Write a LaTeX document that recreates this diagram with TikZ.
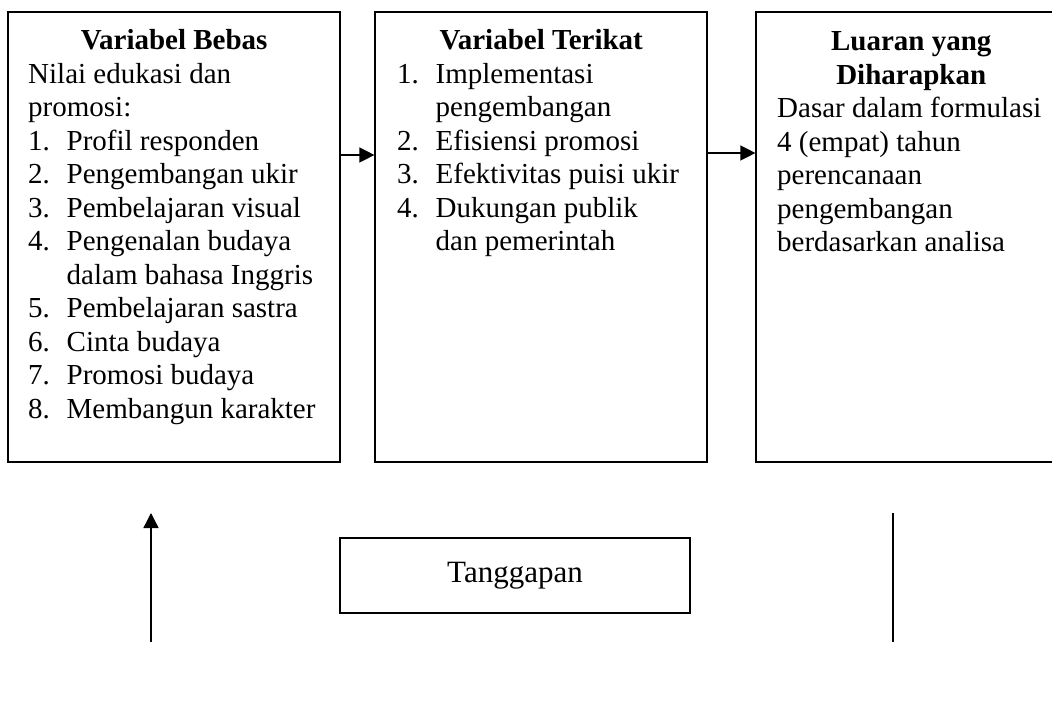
\documentclass[tikz,border=0pt]{standalone}
\usepackage{fontspec}
\setmainfont{Liberation Serif}
\usetikzlibrary{arrows.meta}
\tikzset{
  box/.style={draw, line width=1.2pt, rectangle, inner sep=0pt},
  txt/.style={anchor=base west, inner sep=0pt, font=\fontsize{29}{33.5}\selectfont},
  arr/.style={line width=1.4pt, -{Triangle[length=15pt,width=15pt]}},
  plain/.style={line width=1.4pt}
}
\newcommand{\itm}[1]{\makebox[38.5pt][l]{#1}}
\newcommand{\hng}{\hspace*{38.5pt}}
\begin{document}
\begin{tikzpicture}[x=1pt,y=-1pt]
\useasboundingbox (0,0) rectangle (1052,708);
\clip (0,0) rectangle (1052,708);
% boxes
\node[box, minimum width=332pt, minimum height=450pt] (vb) at (174,237) {};
\node[box, minimum width=332pt, minimum height=450pt] (vt) at (541,237) {};
\node[box, minimum width=310pt, minimum height=450pt] (lh) at (911,237) {};
\node[box, minimum width=350pt, minimum height=75pt, font=\fontsize{31}{36}\selectfont] (tg) at (515,575.5) {Tanggapan};
% texts
\node[txt] (t1) at (28,50) {\parbox[t]{292pt}{%
\makebox[\linewidth][c]{\bfseries Variabel Bebas}\\
Nilai edukasi dan\\
promosi:\\
\itm{1.}Profil responden\\
\itm{2.}Pengembangan ukir\\
\itm{3.}Pembelajaran visual\\
\itm{4.}Pengenalan budaya\\
\hng dalam bahasa Inggris\\
\itm{5.}Pembelajaran sastra\\
\itm{6.}Cinta budaya\\
\itm{7.}Promosi budaya\\
\itm{8.}Membangun karakter}};
\node[txt] (t2) at (397,50) {\parbox[t]{288pt}{%
\makebox[\linewidth][c]{\bfseries Variabel Terikat}\\
\itm{1.}Implementasi\\
\hng pengembangan\\
\itm{2.}Efisiensi promosi\\
\itm{3.}Efektivitas puisi ukir\\
\itm{4.}Dukungan publik\\
\hng dan pemerintah}};
\node[txt] (t3) at (777,51) {\parbox[t]{268pt}{%
\makebox[\linewidth][c]{\bfseries Luaran yang}\\
\makebox[\linewidth][c]{\bfseries Diharapkan}\\
Dasar dalam formulasi\\
4 (empat) tahun\\
perencanaan\\
pengembangan\\
berdasarkan analisa}};
% connectors
\coordinate (ya) at (0,155);
\coordinate (yb) at (0,153);
\draw[arr] (vb.east |- ya) -- (vt.west |- ya);
\draw[arr] (vt.east |- yb) -- (lh.west |- yb);
\coordinate (u0) at (151,642);
\coordinate (u1) at (151,513);
\draw[arr] (u0) -- (u1);
\coordinate (r0) at (893,513);
\coordinate (r1) at (893,642);
\draw[plain] (r0) -- (r1);
\end{tikzpicture}
\end{document}
